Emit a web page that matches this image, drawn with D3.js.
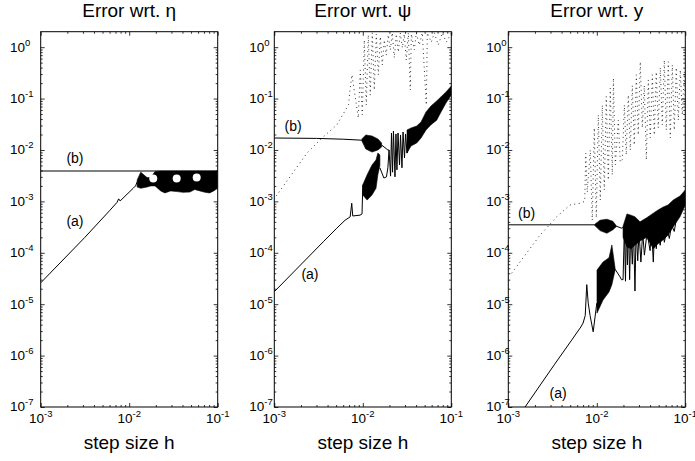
<!DOCTYPE html>
<html>
<head>
<meta charset="utf-8">
<script src="https://cdn.jsdelivr.net/npm/d3@7"></script>
<style>
  body { margin: 0; background: #fff; }
  text { font-family: "Liberation Sans", Arial, sans-serif; fill: #000; }
</style>
</head>
<body>
<svg id="chart" width="695" height="461"></svg>
<script>
// ---- data (h, error) ----
const titles = ['Error wrt. η', 'Error wrt. ψ', 'Error wrt. y']
const xLabel = 'step size h'
const xMajor = [1e-3, 1e-2, 1e-1]
const xTickExp = ['-3', '-2', '-1']
const yMajor = [1e0, 1e-1, 1e-2, 1e-3, 1e-4, 1e-5, 1e-6, 1e-7]
const yTickExp = ['0', '-1', '-2', '-3', '-4', '-5', '-6', '-7']

// panel 1: eta
const etaB = [[1e-3, 3.9e-3], [0.1, 3.9e-3]]
const etaA = [[1e-3, 2.6e-5], [3.16e-3, 2.0e-4], [6.0e-3, 6.6e-4], [7.3e-3, 9.6e-4], [7.6e-3, 1.12e-3],
  [7.9e-3, 1.02e-3], [0.0111, 1.8e-3], [0.0118, 2.0e-3], [0.0123, 2.4e-3]]
const etaBand = [[0.0123, 1.9e-3, 2.6e-3], [0.0135, 1.8e-3, 3.7e-3], [0.0159, 1.9e-3, 2.9e-3],
  [0.0175, 2.0e-3, 2.9e-3], [0.0196, 2.0e-3, 3.8e-3], [0.0227, 1.6e-3, 3.9e-3], [0.0253, 1.46e-3, 3.9e-3],
  [0.0294, 1.6e-3, 3.9e-3], [0.0348, 1.55e-3, 3.9e-3], [0.0405, 1.5e-3, 3.9e-3], [0.0485, 1.52e-3, 3.9e-3],
  [0.055, 1.7e-3, 3.9e-3], [0.063, 1.6e-3, 3.9e-3], [0.072, 1.5e-3, 3.9e-3], [0.081, 1.46e-3, 3.9e-3],
  [0.09, 1.6e-3, 3.9e-3], [0.1, 1.8e-3, 3.9e-3]]
const etaGaps = [[0.0187, 2.8e-3], [0.0344, 2.8e-3], [0.0579, 2.9e-3]]
const etaLabels = [['(b)', 2.44e-3, 5.6e-3], ['(a)', 2.44e-3, 3.3e-4]]

// panel 2: psi
const psiB = [[1e-3, 0.0171], [3e-3, 0.0168], [6e-3, 0.0162], [9.77e-3, 0.0155]]
const psiBlob = [[9.77e-3, 0.0150, 0.0164], [0.0108, 0.0105, 0.0196], [0.0127, 0.0091, 0.0187],
  [0.0148, 0.010, 0.0164], [0.0163, 0.0114, 0.0137]]
const psiBLink = [[0.0163, 0.0125], [0.0192, 0.0100], [0.0198, 0.0100]]
const psiA = [[1e-3, 1.75e-5], [3.58e-3, 1.64e-4], [5.07e-3, 3.0e-4], [6.3e-3, 4.3e-4], [7.2e-3, 5.0e-4],
  [7.5e-3, 9.2e-4], [7.7e-3, 5.2e-4], [9.3e-3, 5.4e-4], [9.8e-3, 5.7e-4], [0.0100, 2.1e-3]]
const psiBandA = [[0.0100, 1.33e-3, 2.1e-3], [0.0112, 1.06e-3, 3.3e-3], [0.0127, 1.33e-3, 5.1e-3],
  [0.0141, 1.8e-3, 6.4e-3], [0.0148, 3.3e-3, 8.7e-3], [0.0156, 5.0e-3, 8.0e-3]]
const psiALink = [[0.0156, 4.5e-3], [0.0173, 2.85e-3], [0.0185, 3.0e-3], [0.0192, 4.5e-3], [0.0198, 0.01]]
const psiSpikes = [[0.0198, 0.01], [0.0206, 3.1e-3], [0.0211, 0.0214], [0.0217, 3.7e-3], [0.0222, 0.0234],
  [0.0231, 3.0e-3], [0.0237, 0.0205], [0.0243, 4.1e-3], [0.0250, 0.0214], [0.0260, 5.1e-3],
  [0.0267, 0.0196], [0.0277, 4.5e-3], [0.0285, 0.0224], [0.0296, 7.0e-3], [0.0304, 0.0205],
  [0.0316, 8.7e-3], [0.0324, 0.0245]]
const psiBand = [[0.0316, 0.0087, 0.0245], [0.0351, 0.0120, 0.0268], [0.0407, 0.0137, 0.0293],
  [0.0455, 0.0171, 0.035], [0.0518, 0.0245, 0.055], [0.059, 0.031, 0.072], [0.0684, 0.038, 0.090],
  [0.0765, 0.055, 0.108], [0.0871, 0.082, 0.135], [0.1, 0.117, 0.175]]
const psiDots = [[1.05e-3, 1.27e-3], [2.34e-3, 8.7e-3], [3.46e-3, 0.0171], [5.1e-3, 0.031], [6.08e-3, 0.052],
  [6.9e-3, 0.076], [7.17e-3, 0.147], [7.55e-3, 0.29],
  [8.89e-3, 0.042], [9.37e-3, 0.36], [9.87e-3, 0.048], [0.0104, 1.38], [0.01095, 0.075], [0.01153, 1.73],
  [0.01215, 0.117], [0.0128, 1.9], [0.01349, 0.147], [0.01421, 1.8], [0.01497, 0.29], [0.01577, 1.6],
  [0.01661, 0.45], [0.0175, 1.38],
  [0.0184, 0.70], [0.0194, 1.73], [0.0205, 0.88], [0.0215, 1.9], [0.0227, 0.62], [0.0239, 1.8],
  [0.0252, 0.80], [0.0265, 1.9], [0.028, 0.97], [0.0294, 1.8], [0.031, 0.56], [0.0327, 1.9],
  [0.0344, 0.147], [0.0354, 1.8], [0.0382, 0.88], [0.0402, 1.9], [0.0435, 1.1], [0.047, 1.9],
  [0.0522, 0.075], [0.0536, 1.9], [0.0594, 1.25], [0.0643, 1.9], [0.0713, 1.1], [0.0791, 1.9],
  [0.0878, 1.25], [0.1, 1.9]]
const psiLabels = [['(b)', 1.63e-3, 0.0234], ['(a)', 2.53e-3, 3.1e-5]]

// panel 3: y
const yB = [[1e-3, 3.5e-4], [9.5e-3, 3.5e-4]]
const yBlob = [[9.5e-3, 3.4e-4, 3.6e-4], [0.01086, 2.7e-4, 4.3e-4], [0.0130, 2.4e-4, 4.5e-4],
  [0.0152, 2.8e-4, 4.1e-4], [0.0165, 3.2e-4, 3.4e-4]]
const yBLink = [[0.0165, 3.3e-4], [0.0192, 3.0e-4], [0.0205, 3.3e-4]]
const yA = [[1.4e-3, 7.8e-8], [3.3e-3, 6.6e-7], [5.2e-3, 2.0e-6], [6.6e-3, 3.6e-6], [7.0e-3, 4.3e-6],
  [7.4e-3, 6e-6], [7.7e-3, 2.4e-5], [8.0e-3, 1.05e-5], [8.4e-3, 6e-6], [9.1e-3, 2.9e-6], [0.0100, 1.05e-5]]
const yBandA = [[0.01005, 6.7e-6, 4.6e-5], [0.01175, 1.2e-5, 6.6e-5], [0.01374, 1.73e-5, 8e-5],
  [0.0148, 2.4e-5, 1.42e-4], [0.0161, 4.6e-5, 5e-5]]
const yALink = [[0.0161, 4.8e-5], [0.0183, 3.4e-5], [0.0190, 3.0e-5], [0.0198, 3.0e-5]]
const yBand = [[0.0198, 2.0e-4, 3.3e-4], [0.0219, 1.3e-4, 5.7e-4], [0.0243, 1.2e-4, 5.4e-4],
  [0.0270, 1.4e-4, 5.0e-4], [0.0308, 1.7e-4, 4.0e-4], [0.0366, 2.0e-4, 4.8e-4], [0.0435, 1.2e-4, 5.9e-4],
  [0.0492, 1.5e-4, 6.8e-4], [0.0564, 1.8e-4, 7.8e-4], [0.0638, 2.2e-4, 8.5e-4], [0.0731, 3.2e-4, 1.06e-3],
  [0.0871, 5.0e-4, 1.27e-3], [0.1, 8.5e-4, 1.67e-3]]
const ySpikes = [[0.0198, 3.0e-5], [0.0205, 3.0e-4], [0.0211, 2.8e-5], [0.0216, 4e-4], [0.0222, 5.8e-5],
  [0.0228, 4e-4], [0.0235, 3.0e-5], [0.0242, 3e-4], [0.0252, 6e-5], [0.0260, 3e-4], [0.0270, 1.8e-5],
  [0.0278, 3e-4], [0.0290, 7e-5], [0.0300, 2.5e-4], [0.0315, 6.6e-5], [0.0330, 2.5e-4], [0.0345, 9e-5],
  [0.037, 2.5e-4], [0.040, 1.1e-4], [0.0415, 3e-4], [0.0435, 6.6e-5], [0.045, 3e-4], [0.047, 1.2e-4],
  [0.049, 3e-4], [0.052, 1.4e-4], [0.055, 3e-4], [0.058, 1.6e-4], [0.062, 3e-4], [0.066, 1.9e-4],
  [0.07, 3.5e-4], [0.075, 2.6e-4], [0.08, 5e-4]]
const yDots = [[1.09e-3, 4.0e-5], [2.28e-3, 2.2e-4], [3.52e-3, 5.0e-4], [4.98e-3, 8.5e-4], [6.45e-3, 9.2e-4],
  [7.3e-3, 1.0e-3], [7.5e-3, 8.7e-3], [7.8e-3, 1.5e-3],
  [8.44e-3, 0.01], [8.89e-3, 4.3e-4], [9.37e-3, 0.027], [9.87e-3, 4.8e-4], [0.0104, 0.048], [0.01095, 1.06e-3],
  [0.01153, 0.075], [0.01215, 1.67e-3], [0.0128, 0.11], [0.01349, 2.6e-3], [0.01421, 0.16], [0.01497, 3.3e-3],
  [0.0154, 0.25], [0.0162, 5.1e-3], [0.0175, 0.038], [0.0184, 5.8e-3],
  [0.0194, 6.4e-3], [0.0205, 0.075], [0.0215, 8e-3], [0.0227, 0.117], [0.0239, 0.01], [0.0252, 0.18],
  [0.0265, 0.0125], [0.028, 0.29], [0.0294, 0.0196], [0.031, 0.52], [0.0327, 0.027],
  [0.0344, 0.18], [0.0363, 6.4e-3], [0.0382, 0.23], [0.0402, 0.0171], [0.0424, 0.29], [0.0446, 0.0196],
  [0.047, 0.33], [0.0495, 0.027], [0.0522, 0.40], [0.055, 0.031],
  [0.0579, 0.56], [0.061, 0.0245], [0.0643, 0.52], [0.0677, 0.0171], [0.0713, 0.45], [0.0751, 0.0245],
  [0.0791, 0.40], [0.0833, 0.038], [0.0878, 0.36], [0.0925, 0.048], [0.0974, 0.33], [0.1, 0.075]]
const yLabels = [['(b)', 1.61e-3, 4.75e-4], ['(a)', 3.65e-3, 1.5e-7]]

// ---- layout ----
const svg = d3.select('#chart')
const panelLeft = [40.7, 274.3, 508.3]
const yLabelStart = [-30.7, -25, -22]
const plotTop = 31.7
const plotW = 177
const plotH = 375.3

const panels = [
  { lines: [etaB, etaA], bands: [etaBand], dots: null, gaps: etaGaps, labels: etaLabels },
  { lines: [psiB, psiBLink, psiA, psiALink, psiSpikes], bands: [psiBlob, psiBandA, psiBand], dots: psiDots, gaps: [], labels: psiLabels },
  { lines: [yB, yBLink, yA, yALink, ySpikes], bands: [yBlob, yBandA, yBand], dots: yDots, gaps: [], labels: yLabels }
]

panels.forEach(function (p, i) {
  const g = svg.append('g').attr('transform', 'translate(' + panelLeft[i] + ',' + plotTop + ')')
  const x = d3.scaleLog().domain([1e-3, 1e-1]).range([0, plotW])
  const y = d3.scaleLog().domain([1e-7, 2]).range([plotH, 0])

  g.append('clipPath').attr('id', 'clip' + i)
    .append('rect').attr('width', plotW).attr('height', plotH)
  const plot = g.append('g').attr('clip-path', 'url(#clip' + i + ')')

  const line = d3.line().x(d => x(d[0])).y(d => y(d[1]))
  const area = d3.area().x(d => x(d[0])).y0(d => y(d[1])).y1(d => y(d[2]))

  // dotted series (scattered look in the reference)
  if (p.dots) {
    plot.append('path')
      .attr('d', line(p.dots))
      .attr('fill', 'none')
      .attr('stroke', '#222')
      .attr('stroke-width', 1)
      .attr('stroke-dasharray', '0.9,3.6')
  }

  p.bands.forEach(function (b) {
    plot.append('path')
      .attr('d', area(b))
      .attr('fill', '#000')
      .attr('stroke', '#000')
      .attr('stroke-width', 0.6)
  })

  p.lines.forEach(function (l) {
    plot.append('path')
      .attr('d', line(l))
      .attr('fill', 'none')
      .attr('stroke', '#000')
      .attr('stroke-width', 1)
  })

  plot.selectAll('circle.gap')
    .data(p.gaps)
    .enter().append('circle')
    .attr('class', 'gap')
    .attr('cx', d => x(d[0]))
    .attr('cy', d => y(d[1]))
    .attr('r', 4)
    .attr('fill', '#fff')

  g.selectAll('text.lab')
    .data(p.labels)
    .enter().append('text')
    .attr('class', 'lab')
    .attr('x', d => x(d[1]))
    .attr('y', d => y(d[2]))
    .attr('text-anchor', 'middle')
    .attr('font-size', 14)
    .text(d => d[0])

  // box ticks, inward, on all four sides
  const xMinor = x.ticks().filter(v => xMajor.indexOf(v) < 0)
  const yMinor = y.ticks().filter(v => yMajor.indexOf(v) < 0 && v < 2)
  const sides = [
    [d3.axisBottom, x, 'translate(0,' + plotH + ')'],
    [d3.axisTop, x, 'translate(0,0)'],
    [d3.axisLeft, y, 'translate(0,0)'],
    [d3.axisRight, y, 'translate(' + plotW + ',0)']
  ]
  sides.forEach(function (s) {
    const isX = s[1] === x
    const major = isX ? xMajor : yMajor
    const minor = isX ? xMinor : yMinor
    ;[[minor, 2], [major, 4]].forEach(function (t) {
      const ax = g.append('g').attr('transform', s[2])
        .call(s[0](s[1]).tickValues(t[0]).tickSize(-t[1]).tickFormat(''))
      ax.select('.domain').remove()
      ax.selectAll('line').attr('stroke', '#000').attr('stroke-width', 0.8)
    })
  })

  g.append('rect')
    .attr('width', plotW).attr('height', plotH)
    .attr('fill', 'none').attr('stroke', '#000').attr('stroke-width', 1)

  // tick labels with superscript exponents
  xMajor.forEach(function (v, k) {
    const t = g.append('text')
      .attr('x', x(v)).attr('y', plotH + 16)
      .attr('text-anchor', 'middle')
      .attr('font-size', 13.5)
    t.append('tspan').text('10')
    t.append('tspan').attr('dy', -5.5).attr('font-size', 9.5).text(xTickExp[k])
  })
  yMajor.forEach(function (v, k) {
    const t = g.append('text')
      .attr('x', yLabelStart[i]).attr('y', y(v) + 4.5)
      .attr('font-size', 13.5)
    t.append('tspan').text('10')
    t.append('tspan').attr('dy', -6).attr('font-size', 9.5).text(yTickExp[k])
  })

  g.append('text')
    .attr('x', plotW / 2).attr('y', -15)
    .attr('text-anchor', 'middle')
    .attr('font-size', 19)
    .text(titles[i])

  g.append('text')
    .attr('x', plotW / 2).attr('y', plotH + 42)
    .attr('text-anchor', 'middle')
    .attr('font-size', 19)
    .text(xLabel)
})
</script>
</body>
</html>
